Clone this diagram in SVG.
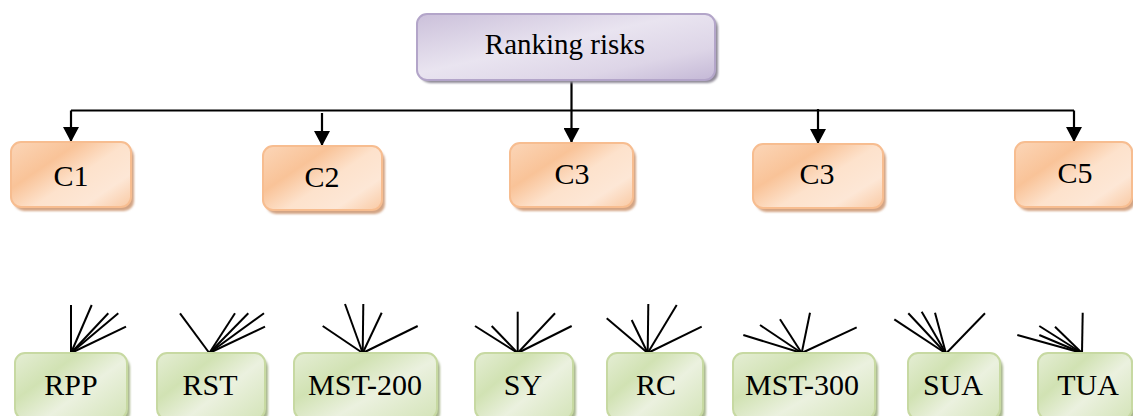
<svg xmlns="http://www.w3.org/2000/svg" width="1133" height="416" viewBox="0 0 1133 416">
<style>
text{font-family:"Liberation Serif","Times New Roman",serif;font-size:30px;fill:#000;text-anchor:middle}
text.t{font-size:29px}
.pb{fill:url(#gp);stroke:#b3a5c9;stroke-width:2}
.ob{fill:url(#go);stroke:#f7bd90;stroke-width:2}
.gb{fill:url(#gg);stroke:#c7d9a2;stroke-width:2}
.ps{fill:#8f8a98}
.os{fill:#d3a484}
.gs{fill:#a9b78e}
.c{fill:none;stroke:#000;stroke-width:2.2}
.f{stroke:#000;stroke-width:2}
</style>
<defs>
<linearGradient id="gp" x1="0" y1="0" x2="1" y2="1">
<stop offset="0" stop-color="#cbc0da"/>
<stop offset="0.45" stop-color="#e9e4f0"/>
<stop offset="0.75" stop-color="#ddd5e7"/>
<stop offset="1" stop-color="#c4b8d6"/>
</linearGradient>
<linearGradient id="go" x1="0" y1="0.1" x2="1" y2="0.9">
<stop offset="0" stop-color="#fbd3b3"/>
<stop offset="0.3" stop-color="#f9c398"/>
<stop offset="0.55" stop-color="#fde2cc"/>
<stop offset="0.8" stop-color="#fde7d6"/>
<stop offset="1" stop-color="#facfad"/>
</linearGradient>
<linearGradient id="gg" x1="0" y1="0.1" x2="1" y2="0.9">
<stop offset="0" stop-color="#e2ecd0"/>
<stop offset="0.3" stop-color="#d1e2b3"/>
<stop offset="0.6" stop-color="#ebf1df"/>
<stop offset="1" stop-color="#d6e5bc"/>
</linearGradient>
<filter id="bl" x="-10%" y="-10%" width="120%" height="130%"><feGaussianBlur stdDeviation="1"/></filter>
<marker id="ah" viewBox="0 0 15 16" refX="15" refY="8" markerWidth="15" markerHeight="16" markerUnits="userSpaceOnUse" orient="auto">
<path d="M0,0 L15,8 L0,16 z" fill="#000"/>
</marker>
</defs>

<g id="connectors">
<path class="c" d="M571.5,80 V110.5"/>
<path class="c" d="M71,110.5 H1074"/>
<path class="c" d="M71,110.5 V142" marker-end="url(#ah)"/>
<path class="c" d="M322,113 V146" marker-end="url(#ah)"/>
<path class="c" d="M571.5,110.5 V143" marker-end="url(#ah)"/>
<path class="c" d="M818,109 V144" marker-end="url(#ah)"/>
<path class="c" d="M1074,110.5 V142" marker-end="url(#ah)"/>
</g>

<g id="ranking">
<rect class="ps" x="420" y="17" width="298" height="66" rx="10" filter="url(#bl)"/>
<rect class="pb" x="417" y="14" width="298" height="66" rx="10"/>
<text class="t" x="565" y="54">Ranking risks</text>
</g>

<g id="c1">
<rect class="os" x="14" y="146" width="120" height="65" rx="10" filter="url(#bl)"/>
<rect class="ob" x="11" y="142" width="120" height="65" rx="10"/>
<text x="71" y="186">C1</text>
</g>
<g id="c2">
<rect class="os" x="266" y="150" width="119" height="64" rx="10" filter="url(#bl)"/>
<rect class="ob" x="263" y="146" width="119" height="64" rx="10"/>
<text x="322" y="187">C2</text>
</g>
<g id="c3a">
<rect class="os" x="513" y="147" width="123" height="64" rx="10" filter="url(#bl)"/>
<rect class="ob" x="510" y="143" width="123" height="64" rx="10"/>
<text x="572" y="184">C3</text>
</g>
<g id="c3b">
<rect class="os" x="756" y="148" width="130" height="64" rx="10" filter="url(#bl)"/>
<rect class="ob" x="753" y="144" width="130" height="64" rx="10"/>
<text x="817" y="184">C3</text>
</g>
<g id="c5">
<rect class="os" x="1018" y="146" width="117" height="65" rx="10" filter="url(#bl)"/>
<rect class="ob" x="1015" y="142" width="117" height="65" rx="10"/>
<text x="1075" y="183">C5</text>
</g>

<g id="fans">
<g class="f">
<line x1="71" y1="353" x2="71" y2="305"/>
<line x1="71" y1="353" x2="91.7" y2="305"/>
<line x1="71" y1="353" x2="108.3" y2="313.3"/>
<line x1="71" y1="353" x2="118.3" y2="313.3"/>
<line x1="71" y1="353" x2="126" y2="326.7"/>

<line x1="209.3" y1="353" x2="180" y2="313.3"/>
<line x1="209.3" y1="353" x2="235" y2="313.3"/>
<line x1="209.3" y1="353" x2="248.3" y2="313.3"/>
<line x1="209.3" y1="353" x2="264" y2="313.3"/>
<line x1="209.3" y1="353" x2="265" y2="326.7"/>

<line x1="362.7" y1="353" x2="322.7" y2="326"/>
<line x1="362.7" y1="353" x2="345" y2="304"/>
<line x1="362.7" y1="353" x2="363.3" y2="304"/>
<line x1="362.7" y1="353" x2="381.7" y2="312.7"/>
<line x1="362.7" y1="353" x2="417.7" y2="326"/>

<line x1="517.7" y1="353" x2="475" y2="326"/>
<line x1="517.7" y1="353" x2="491.7" y2="326"/>
<line x1="517.7" y1="353" x2="517.7" y2="311.7"/>
<line x1="517.7" y1="353" x2="555" y2="313.3"/>
<line x1="517.7" y1="353" x2="571.7" y2="326"/>

<line x1="647.7" y1="353" x2="606.7" y2="318.3"/>
<line x1="647.7" y1="353" x2="631.7" y2="320"/>
<line x1="647.7" y1="353" x2="648.3" y2="304"/>
<line x1="647.7" y1="353" x2="676.7" y2="305"/>
<line x1="647.7" y1="353" x2="701.7" y2="326.7"/>

<line x1="801.7" y1="353" x2="743.3" y2="335"/>
<line x1="801.7" y1="353" x2="760" y2="325"/>
<line x1="801.7" y1="353" x2="780" y2="319.3"/>
<line x1="801.7" y1="353" x2="810" y2="312.7"/>
<line x1="801.7" y1="353" x2="856.7" y2="327.3"/>

<line x1="946" y1="353.5" x2="894.3" y2="319.3"/>
<line x1="946" y1="353.5" x2="908.3" y2="313.3"/>
<line x1="946" y1="353.5" x2="921.7" y2="311.7"/>
<line x1="946" y1="353.5" x2="935" y2="312.7"/>
<line x1="946" y1="353.5" x2="985" y2="313.3"/>

<line x1="1082" y1="353" x2="1082.7" y2="312.7"/>
<line x1="1082" y1="353" x2="1055" y2="326.7"/>
<line x1="1082" y1="353" x2="1039.3" y2="326"/>
<line x1="1082" y1="353" x2="1039.3" y2="335"/>
<line x1="1082" y1="353" x2="1017.3" y2="335"/>
</g>
</g>

<g id="rpp">
<rect class="gs" x="18" y="357" width="112" height="66" rx="10" filter="url(#bl)"/>
<rect class="gb" x="15" y="353" width="112" height="66" rx="10"/>
<text x="71" y="395">RPP</text>
</g>
<g id="rst">
<rect class="gs" x="160" y="357" width="108" height="66" rx="10" filter="url(#bl)"/>
<rect class="gb" x="157" y="353" width="108" height="66" rx="10"/>
<text x="210" y="395">RST</text>
</g>
<g id="mst200">
<rect class="gs" x="297" y="357" width="143" height="66" rx="10" filter="url(#bl)"/>
<rect class="gb" x="294" y="353" width="143" height="66" rx="10"/>
<text x="365" y="395">MST-200</text>
</g>
<g id="sy">
<rect class="gs" x="478" y="357" width="98" height="66" rx="10" filter="url(#bl)"/>
<rect class="gb" x="475" y="353" width="98" height="66" rx="10"/>
<text x="523" y="395">SY</text>
</g>
<g id="rc">
<rect class="gs" x="610" y="357" width="96" height="66" rx="10" filter="url(#bl)"/>
<rect class="gb" x="607" y="353" width="96" height="66" rx="10"/>
<text x="656" y="395">RC</text>
</g>
<g id="mst300">
<rect class="gs" x="736" y="357" width="142" height="66" rx="10" filter="url(#bl)"/>
<rect class="gb" x="733" y="353" width="142" height="66" rx="10"/>
<text x="802" y="395">MST-300</text>
</g>
<g id="sua">
<rect class="gs" x="911" y="357" width="92" height="66" rx="10" filter="url(#bl)"/>
<rect class="gb" x="908" y="353" width="92" height="66" rx="10"/>
<text x="953" y="395">SUA</text>
</g>
<g id="tua">
<rect class="gs" x="1041" y="357" width="94" height="66" rx="10" filter="url(#bl)"/>
<rect class="gb" x="1038" y="353" width="94" height="66" rx="10"/>
<text x="1088" y="395">TUA</text>
</g>
</svg>
